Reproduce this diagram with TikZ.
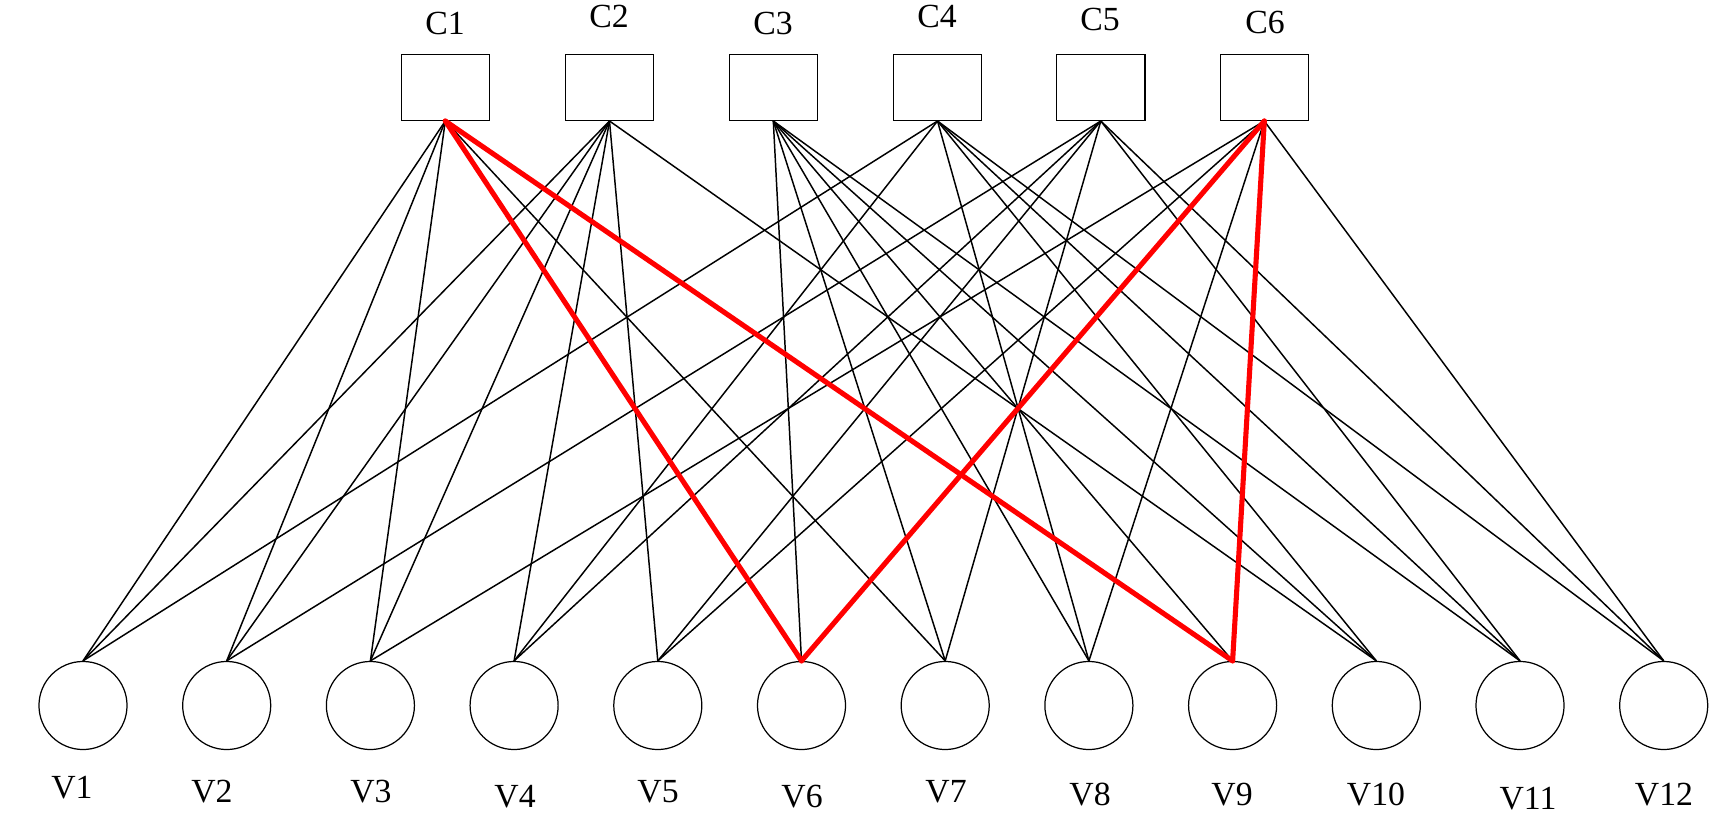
\documentclass[tikz,border=0pt]{standalone}
\usepackage{fontspec}
\setmainfont{Liberation Serif}
\begin{document}
\begin{tikzpicture}[x=0.01cm,y=-0.01cm,
  chk/.style={draw,line width=0.4pt,minimum width=0.88cm,minimum height=0.66cm,inner sep=0pt},
  var/.style={draw,circle,line width=0.35pt,minimum size=0.88cm,inner sep=0pt},
  lbl/.style={font=\fontsize{9.6}{11}\selectfont,inner sep=0pt},
  edge/.style={line width=0.42pt},
  hot/.style={red,line width=1.45pt,line cap=round}]
\useasboundingbox (0,0) rectangle (1715,818);
% check nodes
\node[chk] (c1) at (445.3,87.3) {};
\node[chk] (c2) at (609.5,87.3) {};
\node[chk] (c3) at (773.3,87.3) {};
\node[chk] (c4) at (937.5,87.3) {};
\node[chk] (c5) at (1100.8,87.3) {};
\node[chk] (c6) at (1264.3,87.3) {};
\node[lbl] (lc1) at (445,23) {C1};
\node[lbl] (lc2) at (609,16) {C2};
\node[lbl] (lc3) at (773,23) {C3};
\node[lbl] (lc4) at (937,16) {C4};
\node[lbl] (lc5) at (1100,19.5) {C5};
\node[lbl] (lc6) at (1265,22.5) {C6};
% variable nodes
\foreach \i in {1,...,12}
  \node[var] (v\i) at ({83+143.7*(\i-1)},705.5) {};
\node[lbl] (lv1) at (72,788) {V1};
\node[lbl] (lv2) at (212,792) {V2};
\node[lbl] (lv3) at (371,792) {V3};
\node[lbl] (lv4) at (515,797) {V4};
\node[lbl] (lv5) at (658,792) {V5};
\node[lbl] (lv6) at (802,797) {V6};
\node[lbl] (lv7) at (946,792) {V7};
\node[lbl] (lv8) at (1090,795) {V8};
\node[lbl] (lv9) at (1232,795) {V9};
\node[lbl] (lv10) at (1376,795) {V10};
\node[lbl] (lv11) at (1528,799) {V11};
\node[lbl] (lv12) at (1664,795) {V12};
% black edges
\foreach \c/\v in {1/1,1/2,1/3,1/7,
                   2/1,2/2,2/3,2/4,2/5,2/10,
                   3/6,3/7,3/8,3/9,3/10,3/11,
                   4/1,4/4,4/8,4/10,4/11,4/12,
                   5/2,5/4,5/5,5/7,5/11,5/12,
                   6/3,6/5,6/8,6/12}
  \draw[edge] (c\c.south) -- (v\v.north);
% red edges (4-cycle)
\draw[hot] (c1.south) -- (v6.north);
\draw[hot] (c1.south) -- (v9.north);
\draw[hot] (c6.south) -- (v6.north);
\draw[hot] (c6.south) -- (v9.north);
\end{tikzpicture}
\end{document}
